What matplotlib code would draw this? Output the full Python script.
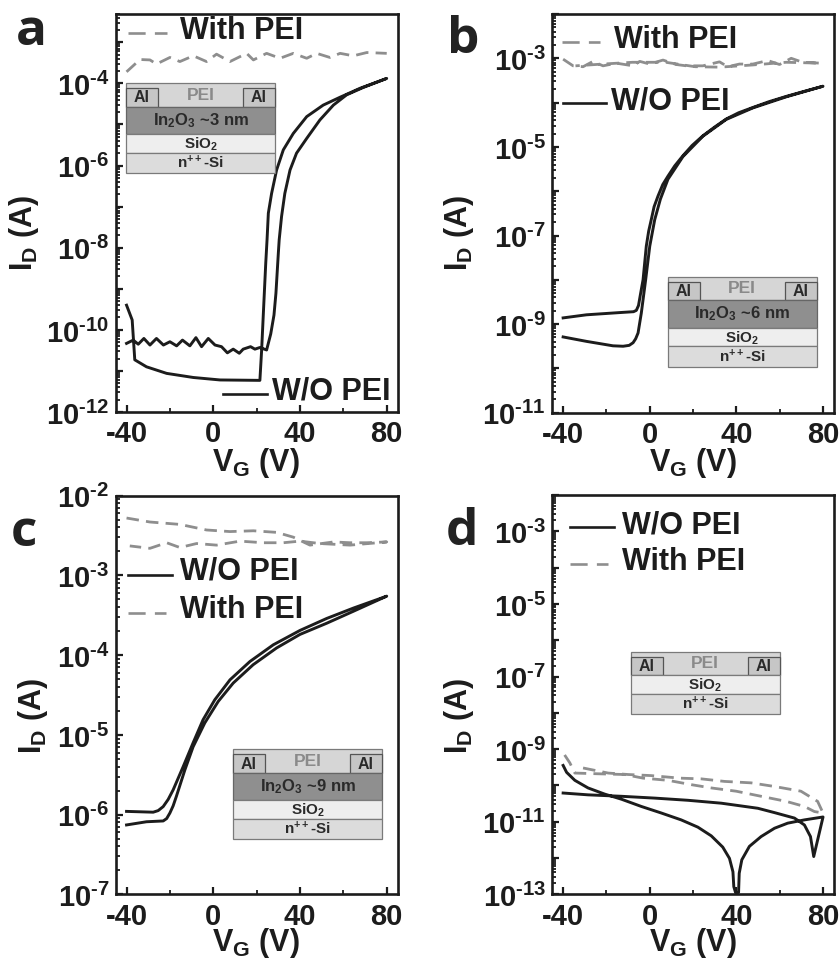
import numpy as np
import matplotlib
matplotlib.use('Agg')
import matplotlib.pyplot as plt
from matplotlib.patches import Rectangle
from matplotlib.transforms import ScaledTranslation

plt.rcParams['font.family'] = ['Liberation Sans', 'DejaVu Sans']
plt.rcParams['font.weight'] = 'bold'
plt.rcParams['mathtext.fontset'] = 'custom'
plt.rcParams['mathtext.rm'] = 'Liberation Sans:bold'
plt.rcParams['mathtext.bf'] = 'Liberation Sans:bold'
plt.rcParams['mathtext.it'] = 'Liberation Sans:bold'
plt.rcParams['mathtext.default'] = 'bf'
plt.rcParams['axes.unicode_minus'] = False

W, H = 839, 960

# all currents are stored as log10(I_D / A)
a_wo_v = [-40, -37.4, -36.2, -30.8, -21.5, -9.2, 3.1, 21.5, 22.3, 23.1, 24.2, 24.8, 25.4, 26.9, 29.2, 32.3, 36.9,
          43.1, 50.7, 58.4, 67.7, 80, 69.2, 61.5, 55.4, 49.2, 43.1, 38.4, 35.4, 33, 31.5, 30.4, 30, 28.9, 28, 26.5,
          24.6, 21.5, 19.2, 17.2, 13.8, 12, 9.2, 6.5, 3.8, 0.8, -2.3, -5.4, -8, -10.8, -14.2, -16.9, -20, -23,
          -26.2, -29.2, -32, -34.6, -36.9, -40]
a_wo_i = [-9.4, -9.76, -10.73, -10.9, -11.06, -11.16, -11.22, -11.23, -10.5, -9.6, -8.38, -7.81, -7.16, -6.68, -6.11,
          -5.62, -5.22, -4.81, -4.53, -4.34, -4.12, -3.88, -4.1, -4.28, -4.53, -4.89, -5.34, -5.7, -6.11, -6.68,
          -7.24, -7.81, -8.14, -9.11, -9.64, -10.1, -10.49, -10.43, -10.47, -10.41, -10.47, -10.57, -10.47, -10.56,
          -10.41, -10.37, -10.21, -10.41, -10.19, -10.39, -10.25, -10.39, -10.29, -10.37, -10.21, -10.37, -10.21,
          -10.35, -10.25, -10.33]
a_pei_v = [-40, -33.8, -29.2, -26.2, -20, -15.4, -9.2, -3.1, 1.5, 7.7, 15.4, 18.5, 24.6, 30.8, 36.9, 43.1, 47.7,
           53.8, 58.5, 64.6, 70.8, 80]
a_pei_i = [-3.72, -3.42, -3.43, -3.53, -3.37, -3.47, -3.33, -3.47, -3.29, -3.47, -3.27, -3.43, -3.27, -3.39, -3.27,
           -3.39, -3.27, -3.37, -3.27, -3.33, -3.25, -3.27]

b_wo_v = [-40, -29.2, -13.9, -7.5, -6.2, -5.2, -4.2, -3.1, -1.6, -0.5, 0.7, 2, 3.8, 6, 8.4, 11.5, 15.3, 19.5, 24.5,
          30, 35.3, 41, 47.6, 55, 63, 71, 80, 63, 47.6, 35.3, 24.5, 15.3, 8.4, 4.9, 2.3, 0, -1.9, -3.9, -5.4, -6.5,
          -7.7, -9.5, -12.3, -17, -29.2, -40]
b_wo_i = [-8.86, -8.79, -8.74, -8.72, -8.69, -8.58, -8.3, -8, -7.24, -6.9, -6.64, -6.35, -6.11, -5.85, -5.66, -5.43,
          -5.2, -4.97, -4.75, -4.55, -4.37, -4.23, -4.11, -3.98, -3.86, -3.75, -3.63, -3.87, -4.12, -4.38, -4.76,
          -5.22, -5.73, -6.18, -6.64, -7.24, -8, -8.75, -9.2, -9.33, -9.42, -9.48, -9.5, -9.49, -9.39, -9.29]
b_pei_v = [-40, -35.4, -30.8, -26.2, -21.6, -15.4, -7.7, -4.6, 0, 6.1, 12.2, 16.9, 24.5, 32.2, 36, 41.4, 47.6, 54.5,
           59.9, 65.3, 70.6, 79, 63, 47.6, 32.2, 21, 7.4, -8, -21.7, -34.3]
b_pei_i = [-3.02, -3.17, -3.19, -3.07, -3.17, -3.11, -3.17, -3.07, -3.13, -3.04, -3.14, -3.17, -3.17, -3.08, -3.19,
           -3.13, -3.13, -3.05, -3.14, -3, -3.09, -3.11, -3.09, -3.15, -3.2, -3.19, -3.09, -3.09, -3.13, -3.17]

c_wo_v = [-40, -27.7, -25.4, -23.1, -20.8, -18.5, -13.9, -9.3, -4.7, 0.7, 7.7, 16.9, 27.7, 40, 52.3, 64.6, 80,
          64.6, 52.3, 40, 29.2, 18.4, 9.2, 2.3, -3.9, -9.3, -13.1, -17, -18.5, -20, -21.5, -23.1, -30.8, -40]
c_wo_i = [-5.96, -5.97, -5.95, -5.9, -5.81, -5.69, -5.4, -5.1, -4.81, -4.56, -4.31, -4.08, -3.87, -3.69, -3.54, -3.41,
          -3.26, -3.45, -3.6, -3.74, -3.91, -4.12, -4.35, -4.58, -4.85, -5.15, -5.44, -5.77, -5.89, -5.98, -6.05,
          -6.08, -6.09, -6.13]
c_pei_v = [-40, -29.2, -15.4, -3.1, 7.7, 18.5, 29.2, 36.9, 44.6, 55.4, 63.1, 70.8, 80,
           63.1, 49.2, 40, 32.3, 23.1, 12.3, 1.5, -7.7, -15.4, -21.5, -29.2, -38.5]
c_pei_i = [-2.28, -2.33, -2.36, -2.43, -2.45, -2.44, -2.46, -2.52, -2.62, -2.58, -2.59, -2.59, -2.58,
           -2.62, -2.6, -2.57, -2.59, -2.59, -2.57, -2.62, -2.6, -2.65, -2.59, -2.66, -2.63]

d_wo_v = [-40, -38.4, -34.6, -28.5, -20.8, -13.1, -3.9, 5.3, 14.5, 22.2, 28.4, 33.7, 36.8, 38.4, 38.8, 39.6, 41, 41.3,
          42.5, 46, 51.4, 57.6, 63.7, 71.4, 80, 75.7, 74.2, 71.4, 66.8, 57.6, 49.9, 33, 17.6, 2.3, -13.1, -28.5, -40]
d_wo_i = [-9.45, -9.64, -9.86, -10.07, -10.24, -10.38, -10.58, -10.76, -10.95, -11.15, -11.39, -11.7, -12.01, -12.38,
          -12.79, -12.95, -12.95, -12.42, -12.05, -11.68, -11.41, -11.18, -11.04, -10.95, -10.87, -11.96, -11.41,
          -11.09, -10.9, -10.75, -10.63, -10.49, -10.41, -10.35, -10.3, -10.26, -10.21]
d_pei_v = [-30.8, -19.2, -10, 0.7, 13.8, 23.8, 34.5, 46.8, 57.6, 69.8, 77.5, 80, 76, 71.4, 63, 51.4, 39.9, 28.4, 19.2,
           8.4, -3.1, -11.6, -23.9, -34.6, -36.9, -40]
d_pei_i = [-9.52, -9.66, -9.7, -9.73, -9.8, -9.82, -9.89, -9.93, -10.03, -10.16, -10.44, -10.76, -10.72, -10.58,
           -10.44, -10.3, -10.16, -10.07, -9.98, -9.86, -9.8, -9.7, -9.68, -9.66, -9.38, -9.1]

x_major = [-40, 0, 40, 80]
x_minor = [-20, 20, 60]

BLACK = '#1c1c1c'
GREY = '#8e8e8e'
DASH = (4.5, 2.6)


def make_axes(fig, box, ylim, labelled, wo, pei):
    l, t, r, b = box
    ax = fig.add_axes([l / W, 1 - b / H, (r - l) / W, (b - t) / H])
    ax.plot(wo[0], 10.0 ** np.array(wo[1]), color=BLACK, lw=2.1, solid_joinstyle='round')
    ax.plot(pei[0], 10.0 ** np.array(pei[1]), color=GREY, lw=2.0, dashes=DASH)
    ax.set_yscale('log')
    ax.set_xlim(-45, 85.2)
    ax.set_ylim(10.0 ** ylim[0], 10.0 ** ylim[1])
    ax.set_xticks(x_major)
    ax.set_xticklabels([str(v) for v in x_major], fontsize=21, fontweight='bold')
    ax.set_xticks(x_minor, minor=True)
    decades = list(range(int(ylim[0]), int(np.floor(ylim[1])) + 1))
    ax.set_yticks([10.0 ** d for d in decades])
    ax.set_yticklabels(['$10^{\\text{-}%d}$' % -d if d in labelled else '' for d in decades], fontsize=21, va='top')
    ax.yaxis.set_minor_locator(matplotlib.ticker.LogLocator(base=10, subs=np.arange(2, 10), numticks=30))
    ax.yaxis.set_minor_formatter(matplotlib.ticker.NullFormatter())
    ax.tick_params(axis='both', which='major', direction='in', length=5, width=1.6, color=BLACK, labelcolor=BLACK)
    ax.tick_params(axis='both', which='minor', direction='in', length=2.6, width=1.3, color=BLACK)
    ax.tick_params(axis='x', which='major', pad=6)
    ax.tick_params(axis='y', which='major', pad=4.5)
    for spine in ax.spines.values():
        spine.set_linewidth(1.9)
        spine.set_color(BLACK)
    # top-anchored labels, lifted so the digits sit around the tick like the original
    for lab in ax.get_yticklabels():
        lab.set_transform(lab.get_transform() + ScaledTranslation(0, 7.5 / 72, fig.dpi_scale_trans))
    return ax


def axis_labels(ax, box, xpos, ypos):
    l, t, r, b = box
    ax.set_xlabel('$V_G$ (V)', fontsize=22, fontweight='bold', color=BLACK, va='center')
    ax.set_ylabel('$I_D$ (A)', fontsize=22, fontweight='bold', color=BLACK, va='center')
    ax.xaxis.set_label_coords((xpos[0] - l) / (r - l), (b - xpos[1]) / (b - t))
    ax.yaxis.set_label_coords((ypos[0] - l) / (r - l), (b - ypos[1]) / (b - t))


def legend_entry(ov, x0, x1, y, tx, ty, text, dashed):
    if dashed:
        ov.plot([x0, x1], [y, y], color=GREY, lw=1.9, dashes=(6.5, 3.5))
    else:
        ov.plot([x0, x1], [y, y], color=BLACK, lw=1.9)
    ov.text(tx, ty, text, fontsize=22, fontweight='bold', color=BLACK, ha='left', va='baseline')


def stack(ov, x, y, film=None):
    w = 149
    edge = '#7a7a7a'
    film_h = 27.5 if film else 0
    pei_h, sio_h, si_h = 23.5, 18.5, 20.5
    yy = y
    ov.add_patch(Rectangle((x, yy), w, pei_h, fc='#d6d6d6', ec=edge, lw=0.9))
    for ax0 in (x, x + w - 32):
        ov.add_patch(Rectangle((ax0, yy + 5), 32, pei_h - 5, fc='#c6c6c6', ec='#555555', lw=0.9))
        ov.text(ax0 + 16, yy + 15, 'Al', fontsize=11.5, color='#2a2a2a', ha='center', va='center')
    ov.text(x + w / 2, yy + 12, 'PEI', fontsize=12.5, color='#8a8a8a', ha='center', va='center')
    yy += pei_h
    if film:
        ov.add_patch(Rectangle((x, yy), w, film_h, fc='#8f8f8f', ec='#666666', lw=0.9))
        ov.text(x + w / 2, yy + film_h / 2, 'In$_2$O$_3$ ~%s nm' % film, fontsize=12, color='#2a2a2a', ha='center', va='center')
        yy += film_h
    ov.add_patch(Rectangle((x, yy), w, sio_h, fc='#eeeeee', ec=edge, lw=0.9))
    ov.text(x + w / 2, yy + sio_h / 2 + 1, 'SiO$_2$', fontsize=11, color='#2a2a2a', ha='center', va='center')
    yy += sio_h
    ov.add_patch(Rectangle((x, yy), w, si_h, fc='#dcdcdc', ec=edge, lw=0.9))
    ov.text(x + w / 2, yy + si_h / 2, 'n$^{++}$-Si', fontsize=11, color='#2a2a2a', ha='center', va='center')


fig = plt.figure(figsize=(W / 100, H / 100), dpi=100)

box_a = (115.7, 13.5, 398, 412)
box_b = (552.3, 14, 834.3, 412.7)
box_c = (115.7, 495.7, 398, 894.3)
box_d = (552.3, 495, 834.3, 894.3)

ax_a = make_axes(fig, box_a, (-12, -2.3), [-4, -6, -8, -10, -12], (a_wo_v, a_wo_i), (a_pei_v, a_pei_i))
ax_b = make_axes(fig, box_b, (-11, -2), [-3, -5, -7, -9, -11], (b_wo_v, b_wo_i), (b_pei_v, b_pei_i))
ax_c = make_axes(fig, box_c, (-7, -2), [-2, -3, -4, -5, -6, -7], (c_wo_v, c_wo_i), (c_pei_v, c_pei_i))
ax_d = make_axes(fig, box_d, (-13, -2), [-3, -5, -7, -9, -11, -13], (d_wo_v, d_wo_i), (d_pei_v, d_pei_i))

axis_labels(ax_a, box_a, (256, 463), (24, 233))
axis_labels(ax_b, box_b, (693, 463), (459, 233))
axis_labels(ax_c, box_c, (256, 943), (33, 716))
axis_labels(ax_d, box_d, (693, 943), (459, 716))

# everything not tied to data goes on a pixel overlay
ov = fig.add_axes([0, 0, 1, 1], facecolor='none')
ov.set_xlim(0, W)
ov.set_ylim(H, 0)
ov.axis('off')

legend_entry(ov, 128, 167, 33, 180, 39, 'With PEI', True)
legend_entry(ov, 223, 267, 394, 272, 400, 'W/O PEI', False)
legend_entry(ov, 562, 600, 42, 614, 48, 'With PEI', True)
legend_entry(ov, 563, 606, 103, 611, 109, 'W/O PEI', False)
legend_entry(ov, 128, 172, 575, 180, 580, 'W/O PEI', False)
legend_entry(ov, 128, 166, 613, 180, 618, 'With PEI', True)
legend_entry(ov, 570, 614, 527, 622, 533, 'W/O PEI', False)
legend_entry(ov, 570, 608, 564, 622, 570, 'With PEI', True)

stack(ov, 126, 83, '3')
stack(ov, 667.7, 276.7, '6')
stack(ov, 233, 749.3, '9')
stack(ov, 630.7, 651.7)

for letter, x, y in [('a', 16, 45), ('b', 447, 53), ('c', 11, 546), ('d', 446, 545)]:
    ov.text(x, y, letter, family='Open Sans', fontsize=37, fontweight='bold', color='#222222', ha='left', va='baseline')

fig.savefig('out.png', dpi=100)
